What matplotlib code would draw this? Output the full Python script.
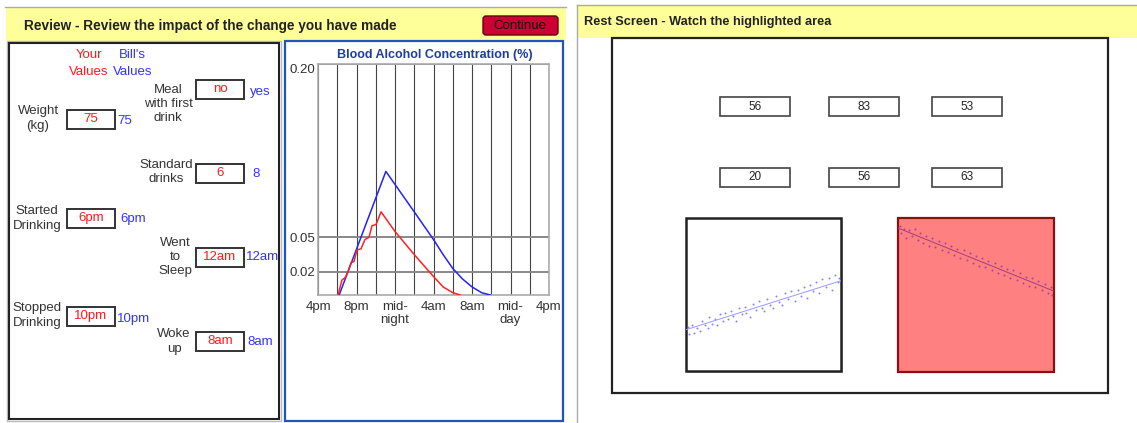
import numpy as np
import matplotlib
matplotlib.use('Agg')
import matplotlib.pyplot as plt
from matplotlib.patches import Rectangle, FancyBboxPatch

plt.rcParams['font.family'] = ['Liberation Sans', 'DejaVu Sans']

# ---- data ----
# BAC curves, hours after 4pm
bill_hours = [2.2, 7.05, 10.0, 12.0, 13.0, 14.0, 15.0, 16.0, 17.0, 17.9]
bill_bac = [0.0, 0.107, 0.072, 0.048, 0.035, 0.023, 0.014, 0.007, 0.002, 0.0]
your_hours = [2.08, 2.49, 2.81, 3.12, 3.43, 3.74, 4.05, 4.47, 4.88, 5.30, 5.61,
              6.03, 6.55, 8.0, 10.0, 12.0, 13.0, 14.0, 14.8]
your_bac = [0.0, 0.013, 0.015, 0.020, 0.028, 0.029, 0.039, 0.040, 0.048, 0.050,
            0.060, 0.061, 0.072, 0.055, 0.035, 0.016, 0.007, 0.002, 0.0]
tick_hours = [0, 4, 8, 12, 16, 20, 24]
tick_labels = ['4pm', '8pm', 'mid-\nnight', '4am', '8am', 'mid-\nday', '4pm']
bac_ticks = [0.02, 0.05, 0.20]
bac_tick_labels = ['0.02', '0.05', '0.20']

# input fields
field_names = ['Weight\n(kg)', 'Meal\nwith first\ndrink', 'Standard\ndrinks',
               'Started\nDrinking', 'Went\nto\nSleep', 'Stopped\nDrinking', 'Woke\nup']
your_values = ['75', 'no', '6', '6pm', '12am', '10pm', '8am']
bill_values = ['75', 'yes', '8', '6pm', '12am', '10pm', '8am']

# rest screen numbers
grid_numbers = [[56, 83, 53], [20, 56, 63]]

# scatter in white square (normalised)
sc1_x = [0.01, 0.02, 0.04, 0.05, 0.07, 0.09, 0.10, 0.12, 0.14, 0.15, 0.17, 0.19, 0.20,
         0.22, 0.24, 0.25, 0.27, 0.29, 0.30, 0.32, 0.34, 0.36, 0.38, 0.39, 0.41, 0.43,
         0.45, 0.47, 0.49, 0.50, 0.52, 0.54, 0.56, 0.58, 0.60, 0.62, 0.64, 0.66, 0.68,
         0.70, 0.72, 0.74, 0.76, 0.78, 0.80, 0.82, 0.84, 0.86, 0.88, 0.90, 0.92, 0.94,
         0.96, 0.98, 0.99]
sc1_y = [0.29, 0.24, 0.30, 0.25, 0.28, 0.26, 0.33, 0.30, 0.28, 0.35, 0.31, 0.34, 0.30,
         0.37, 0.33, 0.38, 0.34, 0.39, 0.36, 0.33, 0.41, 0.37, 0.42, 0.38, 0.35, 0.44,
         0.40, 0.46, 0.41, 0.39, 0.47, 0.43, 0.41, 0.49, 0.45, 0.43, 0.51, 0.47, 0.52,
         0.46, 0.53, 0.49, 0.55, 0.48, 0.56, 0.52, 0.58, 0.51, 0.60, 0.55, 0.61, 0.53,
         0.63, 0.58, 0.61]
sc1_fit = [0.27, 0.59]

# scatter in red square (normalised)
sc2_x = [0.01, 0.02, 0.04, 0.05, 0.07, 0.09, 0.11, 0.13, 0.14, 0.16, 0.18, 0.20, 0.22,
         0.24, 0.26, 0.28, 0.30, 0.32, 0.34, 0.36, 0.38, 0.40, 0.42, 0.44, 0.46, 0.48,
         0.50, 0.52, 0.54, 0.56, 0.58, 0.60, 0.62, 0.64, 0.66, 0.68, 0.70, 0.72, 0.74,
         0.76, 0.78, 0.80, 0.82, 0.84, 0.86, 0.88, 0.90, 0.92, 0.94, 0.96, 0.98, 0.99]
sc2_y = [0.95, 0.90, 0.93, 0.87, 0.92, 0.88, 0.93, 0.86, 0.90, 0.84, 0.88, 0.82, 0.87,
         0.81, 0.85, 0.79, 0.84, 0.78, 0.82, 0.76, 0.80, 0.74, 0.79, 0.73, 0.77, 0.71,
         0.75, 0.69, 0.74, 0.68, 0.72, 0.66, 0.71, 0.64, 0.69, 0.63, 0.67, 0.61, 0.66,
         0.60, 0.64, 0.58, 0.62, 0.56, 0.61, 0.55, 0.59, 0.53, 0.57, 0.51, 0.55, 0.50]
sc2_fit = [0.935, 0.525]

# ---- figure in pixel coordinates ----
W, H = 1137, 423
fig = plt.figure(figsize=(W / 100, H / 100), dpi=100)
base = fig.add_axes([0, 0, 1, 1])
base.set_xlim(0, W)
base.set_ylim(H, 0)
base.axis('off')

TXT = '#333333'
RED = '#ff1a1a'
BLUE = '#3333ff'
YELLOW = '#ffff99'


def px_axes(x0, y0, x1, y1):
    return fig.add_axes([x0 / W, 1 - y1 / H, (x1 - x0) / W, (y1 - y0) / H])


def rect(x0, y0, x1, y1, fc='none', ec='black', lw=1.0, z=1):
    base.add_patch(Rectangle((x0, y0), x1 - x0, y1 - y0, facecolor=fc,
                             edgecolor=ec, linewidth=lw, zorder=z))


def txt(x, y, s, size=9.5, color=TXT, ha='center', va='center', weight='normal', ls=1.25):
    base.text(x, y, s, fontsize=size, color=color, ha=ha, va=va,
              fontweight=weight, linespacing=ls, zorder=5)


# left screen: header
base.plot([5, 566], [7, 7], color='#aaaaaa', lw=1)
rect(6, 8, 566, 41, fc=YELLOW, ec='none')
txt(24, 26, 'Review - Review the impact of the change you have made', size=9.8,
    ha='left', weight='bold', color='#222222')
base.add_patch(FancyBboxPatch((483, 16), 75, 19, boxstyle='round,pad=0,rounding_size=3',
                              facecolor='#cc0033', edgecolor='#660011', linewidth=1, zorder=3))
txt(520, 26, 'Continue', size=9.5, color='#111111')

# left sub panel
rect(7, 41, 281, 421, ec='#bbbbbb', lw=1)
rect(9, 43, 279, 419, ec='#222222', lw=1.5)
txt(89, 55, 'Your', color=RED)
txt(89, 72, 'Values', color=RED)
txt(132, 55, "Bill's", color=BLUE)
txt(133, 72, 'Values', color=BLUE)

# layout: label centre, box left/top, bill value position
layout = [
    ((38, 118.5), (67, 110), (117, 121)),
    ((168, 104), (196, 80), (250, 92)),
    ((166, 172), (196, 164), (252, 174)),
    ((37, 218.5), (67, 209), (120, 219)),
    ((175, 257), (196, 248), (246, 257)),
    ((37, 315.5), (67, 307), (117, 319)),
    ((174, 341.5), (196, 332), (247, 342)),
]
for name, yv, bv, (lab, bx, bill) in zip(field_names, your_values, bill_values, layout):
    txt(lab[0], lab[1], name)
    rect(bx[0], bx[1], bx[0] + 48, bx[1] + 19, fc='white', ec='#333333', lw=1.4, z=3)
    txt(bx[0] + 24, bx[1] + 9.5, yv, color=RED)
    txt(bill[0], bill[1], bv, color=BLUE, ha='left')

# BAC panel
rect(285, 41, 563, 421, ec='#2255bb', lw=1.6)
txt(435, 55, 'Blood Alcohol Concentration (%)', size=9, weight='bold', color='#1f3d99')

bax = px_axes(318, 64, 549, 295)
bax.plot(bill_hours, bill_bac, color='#2222ff', lw=1.1, zorder=3)
bax.plot(your_hours, your_bac, color='#ff2222', lw=1.1, zorder=3)
bax.set_xlim(0, 24)
bax.set_ylim(0, 0.2)
bax.set_xticks(tick_hours)
bax.set_xticklabels(tick_labels, fontsize=9.5, color=TXT, linespacing=1.2)
bax.set_xticks(np.arange(0, 25, 2), minor=True)
bax.set_yticks(bac_ticks)
bax.set_yticklabels(bac_tick_labels, fontsize=9.5, color=TXT)
bax.get_yticklabels()[-1].set_verticalalignment('top')
bax.tick_params(length=0, which='both')
bax.tick_params(axis='x', pad=4)
bax.tick_params(axis='y', pad=2)
bax.grid(axis='x', which='both', color='#444444', lw=0.8)
bax.grid(axis='y', color='#888888', lw=1.4)
for s in bax.spines.values():
    s.set_color('#aaaaaa')
    s.set_linewidth(1.2)

txt(511, 89, "Bill's BAC", color='#2222ff')
base.plot([482, 541], [101, 101], color='#2222ff', lw=1.5)
txt(516, 139, 'Your BAC', color='#ff2222')
base.plot([482, 540], [148, 148], color='#ff2222', lw=1.5)

# right screen
base.plot([577, 577], [5, 423], color='#aaaaaa', lw=1)
base.plot([577, 1137], [5, 5], color='#aaaaaa', lw=1)
rect(578, 6, 1137, 38, fc=YELLOW, ec='none')
txt(584, 22, 'Rest Screen - Watch the highlighted area', size=9.2, ha='left',
    weight='bold', color='#222222')
rect(612, 38, 1108, 393, ec='#222222', lw=1.6)

col_x = [720, 829, 932]
row_y = [97, 168]
for r, row in enumerate(grid_numbers):
    for c, val in enumerate(row):
        rect(col_x[c], row_y[r], col_x[c] + 70, row_y[r] + 19, fc='white', ec='#444444', lw=1.2)
        txt(col_x[c] + 35, row_y[r] + 9.5, str(val), size=8.5, color='#222222')

# scatter squares
rect(688, 220, 843, 373, fc='#cccccc', ec='none')
rect(686, 218, 841, 371, fc='white', ec='#222222', lw=1.8)
rect(898, 218, 1054, 372, fc='#ff8080', ec='#8b1010', lw=1.6)

s1 = px_axes(686, 218, 841, 371)
s1.set_xlim(0, 1)
s1.set_ylim(0, 1)
s1.axis('off')
s1.scatter(sc1_x, sc1_y, s=2, color='#6666ff', linewidths=0, alpha=0.8)
s1.plot([0, 1], sc1_fit, color='#9999ff', lw=0.7)

s2 = px_axes(898, 218, 1054, 372)
s2.set_xlim(0, 1)
s2.set_ylim(0, 1)
s2.axis('off')
s2.scatter(sc2_x, sc2_y, s=2, color='#9933aa', linewidths=0, alpha=0.8)
s2.plot([0, 1], sc2_fit, color='#a0407a', lw=0.7)

fig.savefig('out.png', dpi=100)
